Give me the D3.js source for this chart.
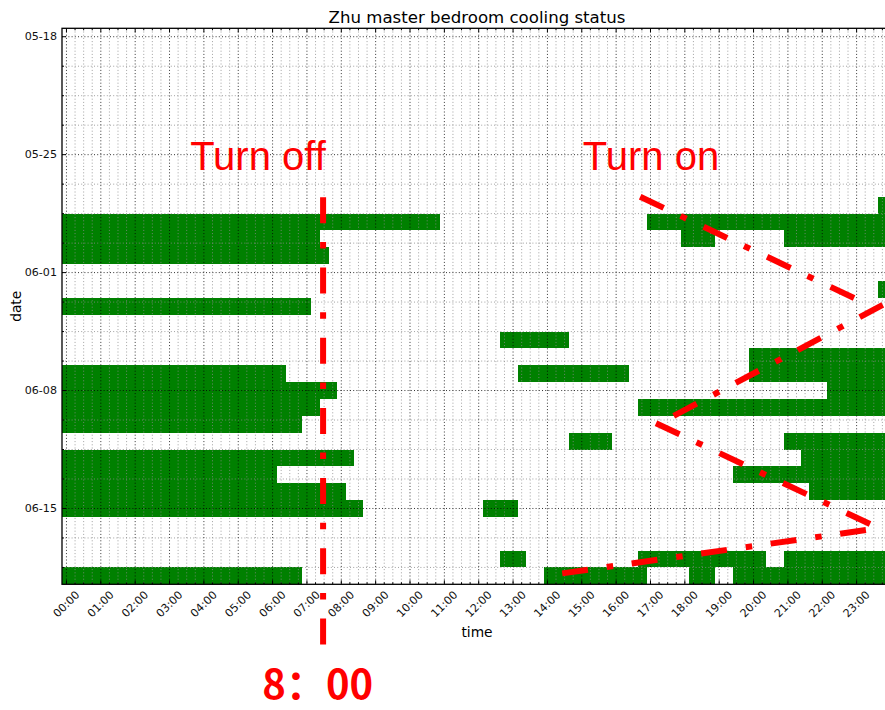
<!DOCTYPE html>
<html>
<head>
<meta charset="utf-8">
<script src="https://cdn.jsdelivr.net/npm/d3@7"></script>
<style>
  body { margin: 0; background: #fff; }
  svg { display: block; }
</style>
</head>
<body>
<svg id="chart" width="885" height="710"></svg>
<script>
// Days on the vertical axis, top to bottom
const dates = [
  "05-18","05-19","05-20","05-21","05-22","05-23","05-24","05-25","05-26","05-27",
  "05-28","05-29","05-30","05-31","06-01","06-02","06-03","06-04","06-05","06-06",
  "06-07","06-08","06-09","06-10","06-11","06-12","06-13","06-14","06-15","06-16",
  "06-17","06-18","06-19"
];
// Labelled dates (weekly)
const dateTicks = ["05-18", "05-25", "06-01", "06-08", "06-15"];
// Hour ticks and their labels
const hourTicks = d3.range(0, 24);
const hourLabels = hourTicks.map(h => String(h).padStart(2, "0") + ":00");

// Cooling-on intervals: [date, start hour, end hour]
const coolingOn = [
  ["05-28", 23.62, 24],
  ["05-29", -0.13, 10.87], ["05-29", 16.89, 24],
  ["05-30", -0.13, 7.38], ["05-30", 17.89, 18.88], ["05-30", 20.90, 24],
  ["05-31", -0.13, 7.64],
  ["06-02", 23.62, 24],
  ["06-03", -0.13, 7.12],
  ["06-05", 12.63, 14.63],
  ["06-06", 19.88, 24],
  ["06-07", -0.13, 6.38], ["06-07", 13.14, 16.38], ["06-07", 19.88, 24],
  ["06-08", -0.13, 7.88], ["06-08", 22.13, 24],
  ["06-09", -0.13, 7.38], ["06-09", 16.65, 24],
  ["06-10", -0.13, 6.86],
  ["06-11", 14.64, 15.87], ["06-11", 20.90, 24],
  ["06-12", -0.13, 8.37], ["06-12", 21.38, 24],
  ["06-13", -0.13, 6.14], ["06-13", 19.39, 24],
  ["06-14", -0.13, 8.13], ["06-14", 21.62, 24],
  ["06-15", -0.13, 8.62], ["06-15", 12.13, 13.14],
  ["06-18", 12.63, 13.39], ["06-18", 16.65, 20.36], ["06-18", 20.90, 24],
  ["06-19", -0.13, 6.86], ["06-19", 13.89, 16.89], ["06-19", 18.13, 18.88], ["06-19", 19.39, 24]
];

// Hand-drawn guide lines, as [hour, day index] pairs
const offGuide = [[7.47, 9.53], [7.47, 36.1]];
const onGuides = [
  [[16.70, 9.50], [22.95, 15.53]],
  [[23.76, 15.92], [17.67, 22.51]],
  [[17.16, 22.94], [23.39, 28.92]],
  [[23.27, 29.28], [14.43, 31.85]]
];

const svg = d3.select("#chart");
const plotLeft = 62, plotRight = 892, plotTop = 28.3, plotBottom = 584.3;

const x = d3.scaleLinear().domain([-0.13, 24.03]).range([plotLeft, plotRight]);
const y = d3.scaleBand().domain(dates).range([plotTop, plotBottom]).padding(0);
const yDay = d3.scaleLinear().domain([-0.5, dates.length - 0.5]).range([plotTop, plotBottom]);

svg.append("defs").append("clipPath").attr("id", "plot")
  .append("rect").attr("x", plotLeft).attr("y", plotTop)
  .attr("width", plotRight - plotLeft).attr("height", plotBottom - plotTop);

const plot = svg.append("g").attr("clip-path", "url(#plot)");

// bars
plot.selectAll("rect.on").data(coolingOn).join("rect")
  .attr("class", "on")
  .attr("x", d => x(d[1]))
  .attr("width", d => x(d[2]) - x(d[1]))
  .attr("y", d => y(d[0]))
  .attr("height", y.bandwidth())
  .attr("fill", "#008000")
  .attr("shape-rendering", "crispEdges");

// grid (drawn over the bars)
const minorHours = d3.range(0, 24.01, 0.25).filter(h => h % 1 !== 0);
const majorDays = dateTicks.map(d => dates.indexOf(d));
const minorDays = d3.range(0, dates.length, 1.75).filter(d => d % 7 !== 0);

function vGrid(cls, data, color) {
  plot.selectAll("line." + cls).data(data).join("line").attr("class", cls)
    .attr("x1", d => x(d)).attr("x2", d => x(d))
    .attr("y1", plotTop).attr("y2", plotBottom)
    .attr("stroke", color).attr("stroke-width", 0.8).attr("stroke-dasharray", "1,2.2");
}
function hGrid(cls, data, color) {
  plot.selectAll("line." + cls).data(data).join("line").attr("class", cls)
    .attr("y1", d => yDay(d)).attr("y2", d => yDay(d))
    .attr("x1", plotLeft).attr("x2", plotRight)
    .attr("stroke", color).attr("stroke-width", 0.8).attr("stroke-dasharray", "1,2.2");
}
vGrid("vmin", minorHours, "#8a8a8a");
hGrid("hmin", minorDays, "#8a8a8a");
vGrid("vmaj", hourTicks, "#000");
hGrid("hmaj", majorDays, "#000");

// inward tick marks
const ticks = svg.append("g").attr("stroke", "#000").attr("stroke-width", 1);
hourTicks.forEach(h => {
  ticks.append("line").attr("x1", x(h)).attr("x2", x(h)).attr("y1", plotBottom).attr("y2", plotBottom - 4);
  ticks.append("line").attr("x1", x(h)).attr("x2", x(h)).attr("y1", plotTop).attr("y2", plotTop + 4);
});
minorHours.forEach(h => {
  ticks.append("line").attr("x1", x(h)).attr("x2", x(h)).attr("y1", plotBottom).attr("y2", plotBottom - 2);
  ticks.append("line").attr("x1", x(h)).attr("x2", x(h)).attr("y1", plotTop).attr("y2", plotTop + 2);
});
majorDays.forEach(d => {
  ticks.append("line").attr("x1", plotLeft).attr("x2", plotLeft + 4).attr("y1", yDay(d)).attr("y2", yDay(d));
});
minorDays.forEach(d => {
  ticks.append("line").attr("x1", plotLeft).attr("x2", plotLeft + 2).attr("y1", yDay(d)).attr("y2", yDay(d));
});

// frame
svg.append("rect").attr("x", plotLeft).attr("y", plotTop)
  .attr("width", plotRight - plotLeft).attr("height", plotBottom - plotTop)
  .attr("fill", "none").attr("stroke", "#000").attr("stroke-width", 1.3);

// tick labels
const font = "'DejaVu Sans', sans-serif";
svg.append("g").selectAll("text").data(dateTicks).join("text")
  .attr("x", plotLeft - 5)
  .attr("y", d => y(d) + y.bandwidth() / 2)
  .attr("text-anchor", "end").attr("dominant-baseline", "central")
  .attr("font-family", font).attr("font-size", 11.1).attr("fill", "#111")
  .text(d => d);

svg.append("g").selectAll("text").data(hourTicks).join("text")
  .attr("transform", d => `translate(${x(d)},${plotBottom + 20}) rotate(-45)`)
  .attr("text-anchor", "middle").attr("dominant-baseline", "central")
  .attr("font-family", font).attr("font-size", 11.1).attr("fill", "#111")
  .text((d, i) => hourLabels[i]);

// titles
svg.append("text").attr("x", (plotLeft + plotRight) / 2).attr("y", 23.3)
  .attr("text-anchor", "middle").attr("font-family", font).attr("font-size", 16.6)
  .text("Zhu master bedroom cooling status");
svg.append("text").attr("x", (plotLeft + plotRight) / 2).attr("y", 636.5)
  .attr("text-anchor", "middle").attr("font-family", font).attr("font-size", 13.8)
  .text("time");
svg.append("text").attr("transform", `translate(20.5,${(plotTop + plotBottom) / 2}) rotate(-90)`)
  .attr("text-anchor", "middle").attr("font-family", font).attr("font-size", 13.8)
  .text("date");

// red guide lines
const guide = d3.line().x(p => x(p[0])).y(p => yDay(p[1]));
const dash = "26,18.7,6.5,19";
svg.append("path").attr("d", guide(offGuide))
  .attr("fill", "none").attr("stroke", "#ff0000").attr("stroke-width", 6)
  .attr("stroke-dasharray", dash);
svg.append("g").selectAll("path").data(onGuides).join("path")
  .attr("d", guide)
  .attr("fill", "none").attr("stroke", "#ff0000").attr("stroke-width", 6)
  .attr("stroke-dasharray", dash);

const red = svg.append("g").attr("fill", "#ff0000");
red.append("text").attr("x", x(3.6)).attr("y", yDay(7.91))
  .attr("font-family", "'Liberation Sans', Arial, sans-serif").attr("font-size", 40)
  .text("Turn off");
red.append("text").attr("x", x(15.03)).attr("y", yDay(7.91))
  .attr("font-family", "'Liberation Sans', Arial, sans-serif").attr("font-size", 40)
  .text("Turn on");
red.append("text").attr("x", x(5.7)).attr("y", yDay(39.3))
  .attr("font-family", "'Noto Sans CJK SC', sans-serif").attr("font-weight", "bold")
  .attr("font-size", 40)
  .text("8：00");
</script>
</body>
</html>
